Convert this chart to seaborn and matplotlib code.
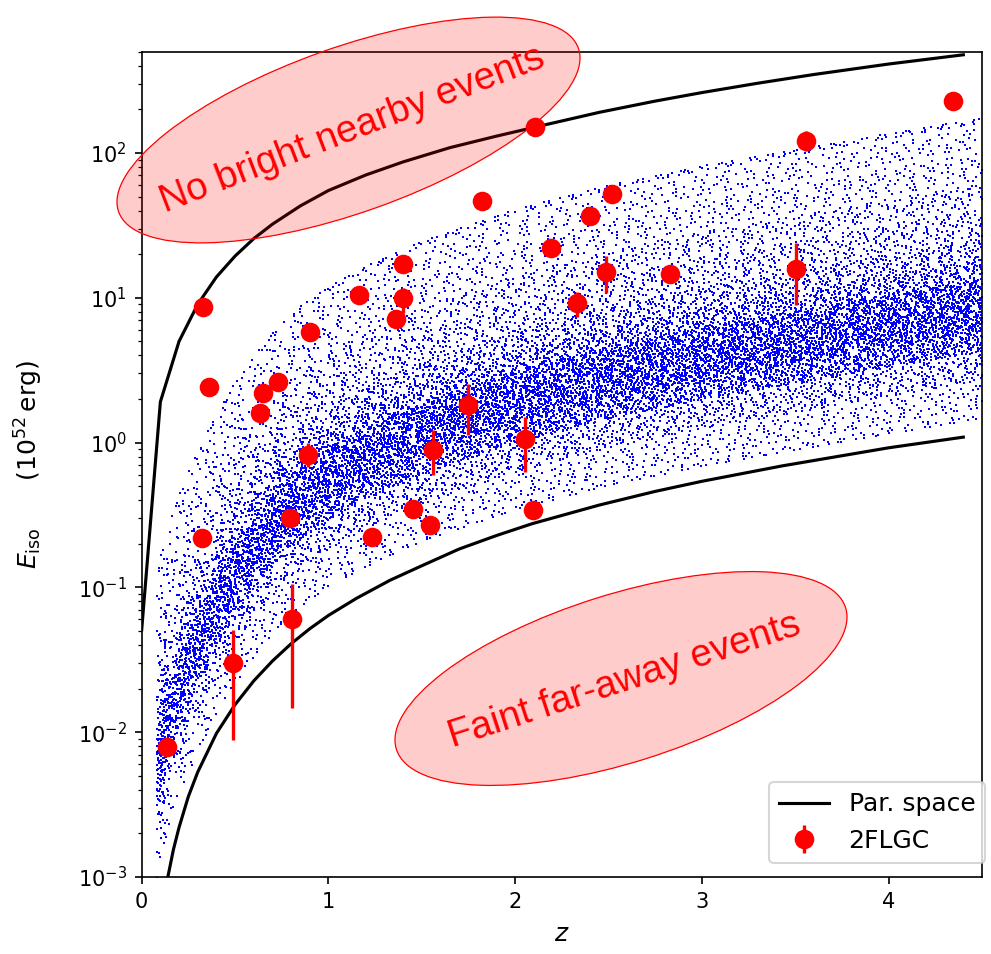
import numpy as np
import pandas as pd
import matplotlib
matplotlib.use("Agg")
import matplotlib.pyplot as plt
import seaborn as sns
from matplotlib.patches import Ellipse
from matplotlib.transforms import IdentityTransform
from matplotlib.lines import Line2D
from matplotlib.legend_handler import HandlerErrorbar
from matplotlib.container import ErrorbarContainer

# ---------------- data ----------------
# Parameter-space boundaries (black curves)
upper_z = [0.0, 0.1, 0.2, 0.3, 0.4, 0.5, 0.6, 0.7, 0.85, 1.0, 1.2, 1.4, 1.65, 1.9, 2.1,
           2.45, 2.75, 3.0, 3.3, 3.6, 4.0, 4.4]
upper_E = [0.051, 1.91, 5.0, 9.0, 13.9, 19.4, 25.6, 32.2, 43.1, 55.0, 70.4, 86.7, 108.7,
           130.6, 150.0, 190.6, 228.0, 261.0, 303.0, 348.0, 411.0, 476.0]
lower_z = [0.1, 0.12, 0.14, 0.17, 0.2, 0.25, 0.3, 0.4, 0.5, 0.6, 0.7, 0.8, 0.9, 1.0, 1.15,
           1.33, 1.5, 1.7, 1.9, 2.09, 2.45, 2.75, 3.0, 3.43, 4.0, 4.4]
lower_E = [4.5e-4, 6.8e-4, 1.0e-3, 1.55e-3, 2.2e-3, 3.6e-3, 5.3e-3, 9.8e-3, 0.0155, 0.0226,
           0.031, 0.0408, 0.0518, 0.064, 0.084, 0.112, 0.141, 0.184, 0.228, 0.275, 0.37,
           0.46, 0.54, 0.69, 0.92, 1.09]

# 2FLGC bursts: redshift, E_iso, lower and upper error bound
grb_z = [0.137, 0.33, 0.36, 0.321, 0.49, 0.648, 0.634, 0.732, 0.803, 0.794, 0.892, 0.901,
         1.166, 1.362, 1.232, 1.401, 1.401, 1.455, 1.562, 1.544, 1.748, 1.82, 2.053, 2.096,
         2.107, 2.19, 2.33, 2.40, 2.52, 2.487, 2.83, 3.505, 3.56, 4.344]
grb_E = [0.0079, 8.6, 2.43, 0.218, 0.030, 2.21, 1.59, 2.63, 0.0604, 0.30, 0.82, 5.8,
         10.4, 7.1, 0.224, 17.2, 9.9, 0.35, 0.89, 0.27, 1.82, 46.4, 1.05, 0.342,
         150.0, 21.9, 9.2, 36.7, 52.0, 15.1, 14.6, 15.8, 121.0, 229.0]
grb_lo = [0.0079, 8.6, 2.43, 0.195, 0.0088, 2.21, 1.36, 2.63, 0.0148, 0.30, 0.68, 5.8,
          10.4, 7.1, 0.224, 17.2, 7.9, 0.35, 0.60, 0.27, 1.13, 46.4, 0.63, 0.342,
          150.0, 21.9, 7.4, 36.7, 52.0, 10.7, 14.6, 8.9, 103.0, 229.0]
grb_hi = [0.0079, 8.6, 2.43, 0.24, 0.0507, 2.21, 1.75, 2.63, 0.105, 0.30, 0.99, 5.8,
          10.4, 7.1, 0.224, 17.2, 11.7, 0.35, 1.22, 0.27, 2.55, 46.4, 1.5, 0.342,
          150.0, 21.9, 11.0, 36.7, 52.0, 19.5, 14.6, 23.9, 142.0, 229.0]

# Simulated population: each track is one burst moved in redshift.
# Track shape (relative to its value at z = 4.4) read from the cloud envelopes
shape_z = [0.08, 0.10, 0.15, 0.20, 0.30, 0.40, 0.50, 0.65, 0.80, 1.00, 1.25, 1.50,
           2.00, 2.50, 3.00, 3.50, 4.00, 4.40, 4.50]
shape_S = [7.0e-4, 9.5e-4, 1.7e-3, 2.7e-3, 5.2e-3, 9.5e-3, 0.0155, 0.029, 0.047, 0.072,
           0.107, 0.148, 0.245, 0.36, 0.49, 0.63, 0.82, 1.0, 1.04]
# Histogram of track levels (E_iso at z = 4.4) read at the right edge
level_edges = [1.35, 1.6, 2.5, 4.0, 5.5, 7.5, 10.0, 13.0, 18.0, 25.0, 40.0, 60.0, 100.0,
               150.0, 170.0]
level_counts = [3, 8, 18, 30, 42, 42, 32, 22, 15, 14, 10, 9, 6, 3]
track_steps = [0.05, 0.065, 0.08, 0.045, 0.07, 0.055, 0.09, 0.06, 0.075, 0.052, 0.068]
gap_pattern = [1.0, 0.35, 1.6, 0.8, 1.25, 0.3, 1.1, 1.9, 0.6, 1.4, 0.5, 1.2]
track_z_range = [0.08, 4.5]

# ---------------- build tables ----------------
levels = []
for lo, hi, n in zip(level_edges[:-1], level_edges[1:], level_counts):
    levels.extend(np.geomspace(lo, hi, n + 2)[1:-1])
log_shape = np.log10(shape_S)
pattern = np.array(gap_pattern)
cz, cE = [], []
for i, L in enumerate(levels):
    step = track_steps[i % len(track_steps)]
    phase = (((i // len(track_steps)) * 0.618034 + (i % len(track_steps)) * 0.2913) % 1.0) * step
    pat = np.roll(pattern, -((i * 5) % len(pattern)))
    reps = int((track_z_range[1] - track_z_range[0]) / (step * pattern.sum())) + 2
    gaps = np.tile(pat, reps) * step
    zs = track_z_range[0] + phase + np.concatenate([[0.0], np.cumsum(gaps)])
    zs = zs[zs < track_z_range[1]]
    cz.extend(zs)
    cE.extend(L * 10 ** np.interp(zs, shape_z, log_shape))
cloud = pd.DataFrame({"z": cz, "E": cE})
upper = pd.DataFrame({"z": upper_z, "E": upper_E})
lower = pd.DataFrame({"z": lower_z, "E": lower_E})

# ---------------- figure ----------------
DPI = 150
W, H = 991, 954
fig = plt.figure(figsize=(W / DPI, H / DPI), dpi=DPI)
ax = fig.add_axes([141.7 / W, (H - 877) / H, (982 - 141.7) / W, (877 - 51.7) / H])

sns.scatterplot(data=cloud, x="z", y="E", marker="s", s=1.35, color="blue",
                linewidth=0, ax=ax, legend=False, zorder=1)
sns.lineplot(data=upper, x="z", y="E", color="black", lw=1.5, ax=ax, sort=False,
             estimator=None, zorder=2)
sns.lineplot(data=lower, x="z", y="E", color="black", lw=1.5, ax=ax, sort=False,
             estimator=None, zorder=2)

E = np.array(grb_E)
yerr = [E - np.array(grb_lo), np.array(grb_hi) - E]
eb = ax.errorbar(grb_z, grb_E, yerr=yerr, fmt="o", color="red", ms=8.4,
                 elinewidth=1.6, capsize=0, zorder=3)

ax.set_yscale("log")
ax.set_xlim(0, 4.5)
ax.set_ylim(1e-3, 500)
ax.set_xticks([0, 1, 2, 3, 4])
ax.set_xlabel("$z$", fontsize=12, labelpad=5)
ax.set_ylabel(r"$E_{\rm iso}$" + " " * 6 + r"$(10^{52}\,$erg$)$", fontsize=12)
ax.yaxis.set_label_coords(-0.115, 0.5)

handles = [Line2D([], [], color="black", lw=1.5), eb]
ax.legend(handles, ["Par. space", "2FLGC"], loc="lower right", fontsize=12,
          bbox_to_anchor=(1.004, 0.017), borderaxespad=0,
          handler_map={ErrorbarContainer: HandlerErrorbar(yerr_size=0.55)})

# annotation ellipses (figure pixels, origin bottom-left)
e1 = Ellipse((348.5, H - 130), 488, 165, angle=19.6, facecolor=(1, 0, 0, 0.2),
             edgecolor="red", lw=0.6, transform=IdentityTransform(), zorder=10)
e2 = Ellipse((621, H - 678.5), 471, 168, angle=17.5, facecolor=(1, 0, 0, 0.2),
             edgecolor="red", lw=0.6, transform=IdentityTransform(), zorder=10)
fig.add_artist(e1)
fig.add_artist(e2)
fig.text(352, H - 130, "No bright nearby events", transform=IdentityTransform(),
         color="red", fontsize=18.5, family="Liberation Sans", rotation=21,
         ha="center", va="center", rotation_mode="anchor", zorder=11)
fig.text(624, H - 681, "Faint far-away events", transform=IdentityTransform(),
         color="red", fontsize=18.5, family="Liberation Sans", rotation=18,
         ha="center", va="center", rotation_mode="anchor", zorder=11)

fig.savefig("out.png", dpi=DPI)
